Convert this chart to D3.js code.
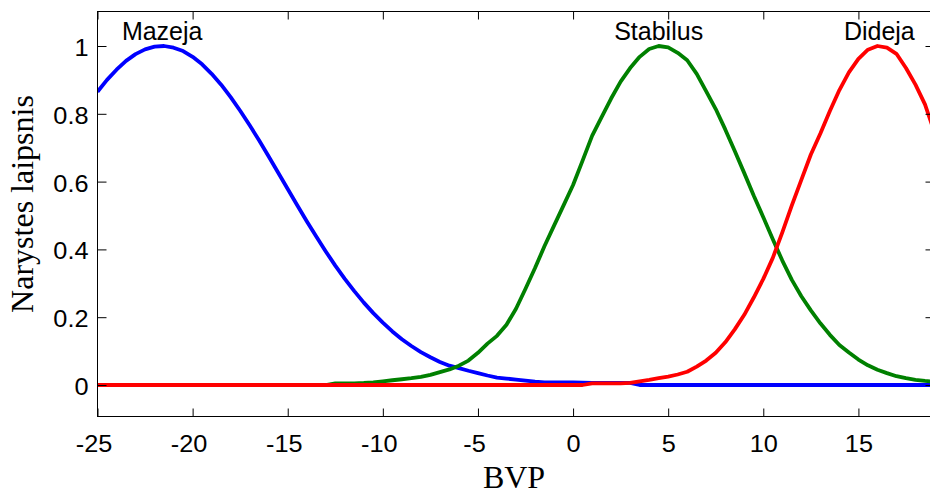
<!DOCTYPE html>
<html>
<head>
<meta charset="utf-8">
<script src="https://cdn.jsdelivr.net/npm/d3@7"></script>
<style>
  html, body { margin: 0; padding: 0; background: #fff; }
  svg { display: block; }
  .tick text { font-family: "Liberation Sans", Arial, sans-serif; }
</style>
</head>
<body>
<svg id="chart" width="930" height="492"></svg>
<script>
// BVP sample positions (step 0.5 from -25 to 19)
const bvp = d3.range(-25, 19.001, 0.5);

// Membership degree of each fuzzy set at the positions above
const mazeja = [
  0.865, 0.900, 0.930, 0.956, 0.976, 0.990, 0.998, 1.000, 0.995, 0.985,   // -25 .. -20.5
  0.968, 0.946, 0.918, 0.886, 0.849, 0.809, 0.766, 0.721, 0.674, 0.626,   // -20 .. -15.5
  0.578, 0.530, 0.483, 0.438, 0.394, 0.352, 0.313, 0.277, 0.243, 0.212,   // -15 .. -10.5
  0.184, 0.158, 0.135, 0.115, 0.097, 0.082, 0.068, 0.057, 0.050, 0.042,   // -10 .. -5.5
  0.035, 0.028, 0.022, 0.019, 0.016, 0.013, 0.010, 0.008, 0.008, 0.008,   //  -5 .. -0.5
  0.008, 0.007, 0.006, 0.006, 0.006, 0.006, 0.006, 0.000, 0.000, 0.000,   //   0 .. 4.5
  0.000, 0.000, 0.000, 0.000, 0.000, 0.000, 0.000, 0.000, 0.000, 0.000,   //   5 .. 9.5
  0.000, 0.000, 0.000, 0.000, 0.000, 0.000, 0.000, 0.000, 0.000, 0.000,   //  10 .. 14.5
  0.000, 0.000, 0.000, 0.000, 0.000, 0.000, 0.000, 0.000, 0.000           //  15 .. 19
];
const stabilus = [
  0.000, 0.000, 0.000, 0.000, 0.000, 0.000, 0.000, 0.000, 0.000, 0.000,   // -25 .. -20.5
  0.000, 0.000, 0.000, 0.000, 0.000, 0.000, 0.000, 0.000, 0.000, 0.000,   // -20 .. -15.5
  0.000, 0.000, 0.000, 0.000, 0.000, 0.005, 0.005, 0.005, 0.006, 0.008,   // -15 .. -10.5
  0.011, 0.014, 0.017, 0.020, 0.024, 0.030, 0.038, 0.046, 0.057, 0.072,   // -10 .. -5.5
  0.095, 0.122, 0.145, 0.178, 0.225, 0.284, 0.345, 0.410, 0.470, 0.530,   //  -5 .. -0.5
  0.590, 0.662, 0.735, 0.790, 0.845, 0.895, 0.935, 0.968, 0.991, 1.000,   //   0 .. 4.5
  0.996, 0.980, 0.958, 0.918, 0.866, 0.814, 0.754, 0.690, 0.625, 0.558,   //   5 .. 9.5
  0.495, 0.430, 0.367, 0.310, 0.262, 0.220, 0.182, 0.148, 0.118, 0.096,   //  10 .. 14.5
  0.075, 0.058, 0.045, 0.035, 0.026, 0.020, 0.015, 0.012, 0.010           //  15 .. 19
];
const dideja = [
  0.000, 0.000, 0.000, 0.000, 0.000, 0.000, 0.000, 0.000, 0.000, 0.000,   // -25 .. -20.5
  0.000, 0.000, 0.000, 0.000, 0.000, 0.000, 0.000, 0.000, 0.000, 0.000,   // -20 .. -15.5
  0.000, 0.000, 0.000, 0.000, 0.000, 0.000, 0.000, 0.000, 0.000, 0.000,   // -15 .. -10.5
  0.000, 0.000, 0.000, 0.000, 0.000, 0.000, 0.000, 0.000, 0.000, 0.000,   // -10 .. -5.5
  0.000, 0.000, 0.000, 0.000, 0.000, 0.000, 0.000, 0.000, 0.000, 0.000,   //  -5 .. -0.5
  0.000, 0.000, 0.005, 0.005, 0.005, 0.005, 0.006, 0.011, 0.015, 0.020,   //   0 .. 4.5
  0.025, 0.031, 0.039, 0.054, 0.072, 0.095, 0.126, 0.164, 0.207, 0.258,   //   5 .. 9.5
  0.313, 0.375, 0.450, 0.530, 0.605, 0.680, 0.742, 0.808, 0.870, 0.922,   //  10 .. 14.5
  0.962, 0.989, 1.000, 0.995, 0.977, 0.935, 0.886, 0.828, 0.745           //  15 .. 19
];

const setNames  = ["Mazeja", "Stabilus", "Dideja"];
const setPeaks  = [-21.6, 4.5, 16.1];
const setColors = ["#0000ff", "#008000", "#ff0000"];

const xTicks = [-25, -20, -15, -10, -5, 0, 5, 10, 15];
const xTickLabels = ["-25", "-20", "-15", "-10", "-5", "0", "5", "10", "15"];
const yTicks = [0, 0.2, 0.4, 0.6, 0.8, 1];
const yTickLabels = ["0", "0.2", "0.4", "0.6", "0.8", "1"];

const xLabel = "BVP";
const yLabel = "Narystes laipsnis";

// ---- layout ----
const plotLeft = 97.5, plotRight = 934.5, plotTop = 11.5, plotBottom = 416.5;

const x = d3.scaleLinear().domain([-25, 19]).range([plotLeft, plotRight]);
const y = d3.scaleLinear().domain([0, 1]).range([385, 46]);

const svg = d3.select("#chart");

svg.append("defs").append("clipPath").attr("id", "plotClip")
  .append("rect")
  .attr("x", plotLeft).attr("y", plotTop)
  .attr("width", plotRight - plotLeft).attr("height", plotBottom - plotTop);

// membership curves
const series = [mazeja, stabilus, dideja];
const line = d3.line()
  .x((d, i) => x(bvp[i]))
  .y(d => y(d));

const curves = svg.append("g").attr("clip-path", "url(#plotClip)");
series.forEach((vals, k) => {
  curves.append("path")
    .datum(vals)
    .attr("d", line)
    .attr("fill", "none")
    .attr("stroke", setColors[k])
    .attr("stroke-width", 3.8)
    .attr("stroke-linejoin", "round");
});

// axes with inward ticks on all four sides
const tickFont = 23;
const stretch = 1.1;   // tick labels are set slightly wide
const fmtX = (d) => xTickLabels[xTicks.indexOf(d)];
const fmtY = (d) => yTickLabels[yTicks.indexOf(d)];

const gBottom = svg.append("g")
  .attr("transform", `translate(0,${plotBottom})`)
  .call(d3.axisBottom(x).tickValues(xTicks).tickFormat(fmtX).tickSize(-8).tickPadding(0));
gBottom.selectAll(".tick text")
  .attr("transform", `scale(${stretch},1)`)
  .attr("x", d => (d < 0 ? -4 : 0) / stretch)
  .attr("y", 35.5).attr("dy", 0)
  .attr("font-size", tickFont).attr("fill", "#000");

const gTop = svg.append("g")
  .attr("transform", `translate(0,${plotTop})`)
  .call(d3.axisTop(x).tickValues(xTicks).tickFormat("").tickSize(-8));

const gLeft = svg.append("g")
  .attr("transform", `translate(${plotLeft},0)`)
  .call(d3.axisLeft(y).tickValues(yTicks).tickFormat(fmtY).tickSize(-9).tickPadding(0));
gLeft.selectAll(".tick text")
  .attr("transform", `scale(${stretch},1)`)
  .attr("x", -9 / stretch).attr("dy", 0).attr("y", 9.5)
  .attr("font-size", tickFont).attr("fill", "#000");

const gRight = svg.append("g")
  .attr("transform", `translate(${plotRight},0)`)
  .call(d3.axisRight(y).tickValues(yTicks).tickFormat("").tickSize(-9));

[gBottom, gTop, gLeft, gRight].forEach(g => {
  g.select(".domain").remove();
  g.selectAll(".tick line").attr("stroke", "#000").attr("stroke-width", 1);
});

// axes box
svg.append("rect")
  .attr("x", plotLeft).attr("y", plotTop)
  .attr("width", plotRight - plotLeft).attr("height", plotBottom - plotTop)
  .attr("fill", "none").attr("stroke", "#000").attr("stroke-width", 1);

// set names above each peak
svg.append("g").selectAll("text")
  .data(setNames)
  .join("text")
  .attr("x", (d, i) => x(setPeaks[i]))
  .attr("y", y(1) - 6)
  .attr("text-anchor", "middle")
  .attr("font-family", "'Liberation Sans', Arial, sans-serif")
  .attr("font-size", 25)
  .attr("fill", "#000")
  .text(d => d);

// axis titles
svg.append("text")
  .attr("x", 514).attr("y", 488)
  .attr("text-anchor", "middle")
  .attr("font-family", "'Liberation Serif', 'Times New Roman', serif")
  .attr("font-size", 32)
  .attr("fill", "#000")
  .text(xLabel);

svg.append("text")
  .attr("transform", "translate(33,204) rotate(-90)")
  .attr("text-anchor", "middle")
  .attr("font-family", "'Liberation Serif', 'Times New Roman', serif")
  .attr("font-size", 32)
  .attr("fill", "#000")
  .text(yLabel);
</script>
</body>
</html>
